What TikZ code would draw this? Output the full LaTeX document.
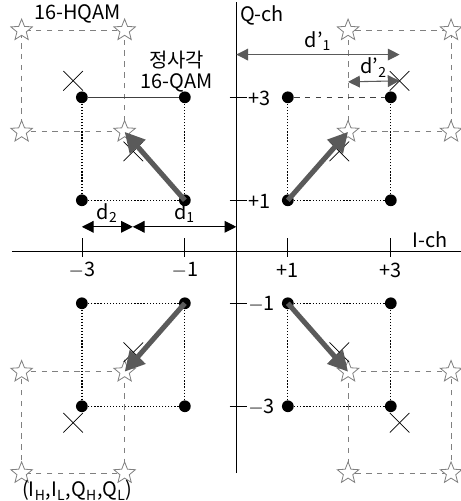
\documentclass[tikz,border=0pt]{standalone}
\usepackage{fontspec}
\setmainfont{Noto Sans CJK KR}
\newfontfamily\kr{Noto Sans CJK KR}
\usepackage{xcolor}
\usetikzlibrary{positioning,shapes,arrows.meta,calc}

\definecolor{arrgray}{HTML}{5A5A5A}

\tikzset{
  lbl/.style={font=\fontsize{11}{12}\selectfont, inner sep=1pt},
  dot/.style={circle, fill=black, inner sep=0pt, minimum size=6.5pt},
  hstar/.style={star, star points=5, star point ratio=2.3, draw=gray, fill=white,
    line width=0.45pt, inner sep=0pt, minimum size=12.5pt},
  xmark/.style={draw=black, line width=0.4pt},
  qgrid/.style={black, densely dotted, line width=0.7pt},
  hgrid/.style={gray, dashed, line width=0.5pt},
  movearrow/.style={arrgray, line width=2.8pt, -{Triangle[length=11pt,width=11pt]}},
  dist/.style={line width=0.6pt, {Triangle[length=6.5pt,width=6.5pt]}-{Triangle[length=6.5pt,width=6.5pt]}},
}

\begin{document}
\begin{tikzpicture}
    \useasboundingbox (-4.59,-4.84) rectangle (4.36,4.89);

    % axes
    \draw[line width=0.5pt] (-4.36,0) -- (4.36,0);
    \draw[line width=0.5pt] (0,-4.3) -- (0,4.85);
    \node[lbl, anchor=south] (ich) at (3.76,0.03) {I-ch};
    \node[lbl, anchor=west] (qch) at (0.03,4.6) {Q-ch};

    % ticks
    \foreach \x/\t in {-3/{$-$3}, -1/{$-$1}, 1/{+1}, 3/{+3}} {
        \draw (\x,-0.1) -- (\x,0.27);
        \node[lbl] (ti\x) at (\x,-0.36) {\t};
    }
    \foreach \y/\t in {-3/{$-$3}, -1/{$-$1}, 1/{+1}, 3/{+3}} {
        \draw (-0.13,\y) -- (0.2,\y);
        \node[lbl, anchor=west] (tq\y) at (0.19,\y-0.02) {\t};
    }

    % 16-HQAM squares and centres
    \foreach \q/\sx/\sy in {ur/1/1, ul/-1/1, ll/-1/-1, lr/1/-1} {
        \draw[hgrid] (\sx*2.17,\sy*2.33) rectangle (\sx*4.17,\sy*4.3);
        \node[hstar] (\q s1) at (\sx*2.17,\sy*2.33) {};
        \node[hstar] (\q s2) at (\sx*4.17,\sy*2.33) {};
        \node[hstar] (\q s3) at (\sx*2.17,\sy*4.3) {};
        \node[hstar] (\q s4) at (\sx*4.17,\sy*4.3) {};
        \coordinate (\q c) at (\sx*3.17,\sy*3.32);
        \coordinate (\q m) at (\sx*2,\sy*1.95);
        \draw[xmark] ($(\q c)+(-0.19,-0.19)$) -- ($(\q c)+(0.19,0.19)$);
        \draw[xmark] ($(\q c)+(-0.19,0.19)$) -- ($(\q c)+(0.19,-0.19)$);
        \draw[xmark] ($(\q m)+(-0.19,-0.19)$) -- ($(\q m)+(0.19,0.19)$);
        \draw[xmark] ($(\q m)+(-0.19,0.19)$) -- ($(\q m)+(0.19,-0.19)$);
    }

    % square 16-QAM
    \foreach \q/\sx/\sy in {ur/1/1, ul/-1/1, ll/-1/-1, lr/1/-1} {
        \node[dot] (\q p1) at (\sx*1,\sy*1) {};
        \node[dot] (\q p2) at (\sx*3,\sy*1) {};
        \node[dot] (\q p3) at (\sx*1,\sy*3) {};
        \node[dot] (\q p4) at (\sx*3,\sy*3) {};
        \draw[qgrid] (\q p1) -- (\q p2);
        \draw[qgrid] (\q p1) -- (\q p3);
        \draw[qgrid] (\q p2) -- (\q p4);
    }
    \draw[qgrid] (llp3) -- (llp4);
    \draw[qgrid] (lrp3) -- (lrp4);
    \draw[darkgray, line width=0.7pt] (ulp3) -- (ulp4);
    \draw[darkgray, dashed, line width=0.6pt] (urp3) -- (urp4);

    % shifts
    \foreach \q in {ur, ul, ll, lr}
        \draw[movearrow] (\q p1.center) -- (\q s1.center);

    % distances
    \coordinate (o1) at (0,3.83);
    \coordinate (e1) at (3.17,3.83);
    \coordinate (o2) at (2.17,3.3);
    \draw[dist, arrgray] (o1) -- (e1) node[lbl, black, midway, above=1pt] (dp1) {d'\textsubscript{1}};
    \draw[dist, arrgray] (o2) -- (urc) node[lbl, black, midway, above=1pt] (dp2) {d'\textsubscript{2}};
    \coordinate (a0) at (-3,0.485);
    \coordinate (a1) at (-2.01,0.485);
    \coordinate (a2) at (0,0.485);
    \draw[dist] (a0) -- (a1) node[lbl, midway, above=1pt] (d2) {d\textsubscript{2}};
    \draw[dist] (a1) -- (a2) node[lbl, midway, above=1pt] (d1) {d\textsubscript{1}};

    % labels
    \node[lbl, anchor=west] (hqam) at (-3.97,4.62) {16-HQAM};
    \node[lbl, align=center] (sqam) at (-1.16,3.5) {{\kr 정사각}\\16-QAM};
    \node[lbl, anchor=west] (bits) at (-4.2,-4.64) {(I\textsubscript{H},I\textsubscript{L},Q\textsubscript{H},Q\textsubscript{L})};
\end{tikzpicture}
\end{document}
